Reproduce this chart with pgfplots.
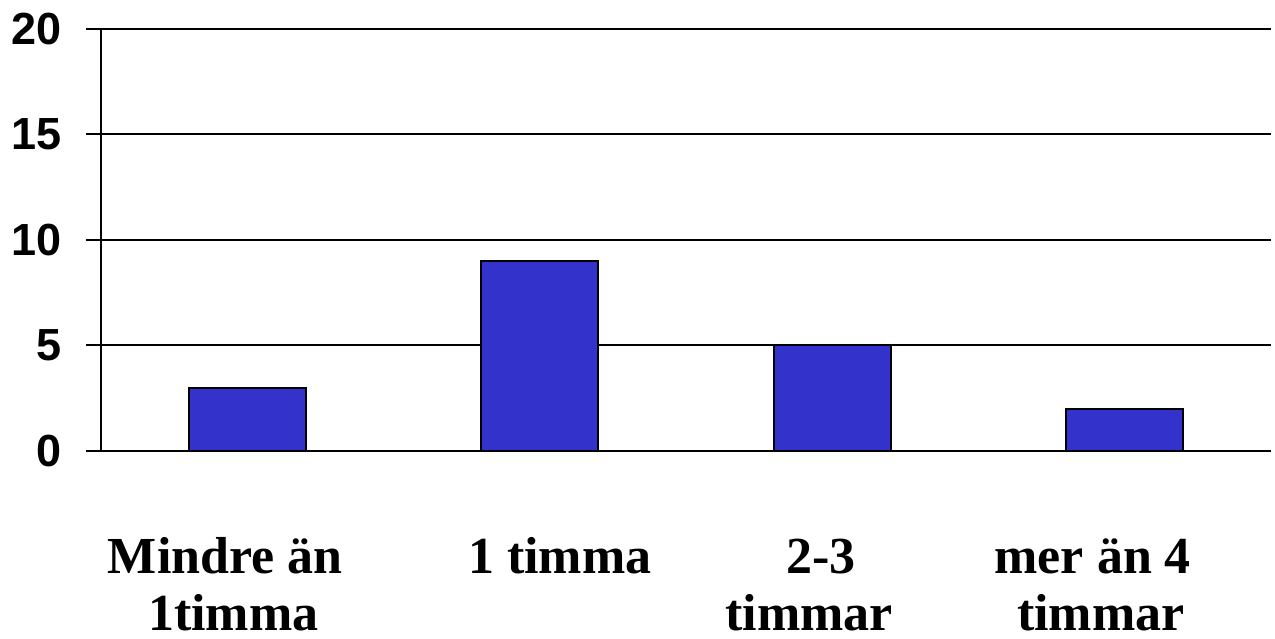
\documentclass[border=0pt]{standalone}
\usepackage{pgfplots}
\pgfplotsset{compat=1.18}
\usepackage{fontspec}
\setmainfont{Liberation Serif}
\newfontfamily\arialfont{Liberation Sans}
\definecolor{barblue}{RGB}{51,51,204}
\newcommand\cl[2]{\hbox to 0pt{\kern#1\relax\hbox to 0pt{\hss#2\hss}\hss}}
\newcommand\labtwo[4]{\vtop{\cl{#1}{#2}\cl{#3}{#4}}}
\newcommand\labone[2]{\vtop{\cl{#1}{#2}}}
\begin{document}
\begin{tikzpicture}
\begin{axis}[
  scale only axis, width=585pt, height=211pt,
  xmin=-0.5, xmax=3.5, ymin=0, ymax=20,
  axis x line=bottom, axis y line=left,
  axis line style={-, line width=1pt, black},
  xtick={0,1,2,3},
  xticklabels={\labtwo{-11pt}{Mindre än}{-7pt}{1timma},
               \labone{10pt}{1 timma},
               \labtwo{-5.5pt}{2-3}{-11.5pt}{timmar},
               \labtwo{-16pt}{mer än 4}{-12pt}{timmar}},
  x tick style={draw=none},
  xticklabel style={font=\bfseries\fontsize{26}{28.5}\selectfont, anchor=base, inner sep=0pt, yshift=-54pt},
  ytick={0,5,10,15,20},
  y tick style={line width=1pt, black},
  tick align=outside, major tick length=7.5pt,
  ymajorgrids, grid style={line width=1pt, black},
  yticklabel style={font=\arialfont\bfseries\fontsize{22.5}{24}\selectfont, anchor=east, inner sep=0pt, xshift=-12pt},
  /pgf/number format/assume math mode=true,
  ybar, bar width=0.4,
  clip=false,
]
\addplot[fill=barblue, draw=black, line width=1pt] coordinates {(0,3) (1,9) (2,5) (3,2)};
\coordinate (bl) at (rel axis cs:0,0);
\coordinate (tr) at (rel axis cs:1,1);
\end{axis}
\pgfresetboundingbox
\path[use as bounding box] ([shift={(-50.5pt,-94pt)}]bl) rectangle ([shift={(2pt,14.5pt)}]tr);
\end{tikzpicture}
\end{document}
